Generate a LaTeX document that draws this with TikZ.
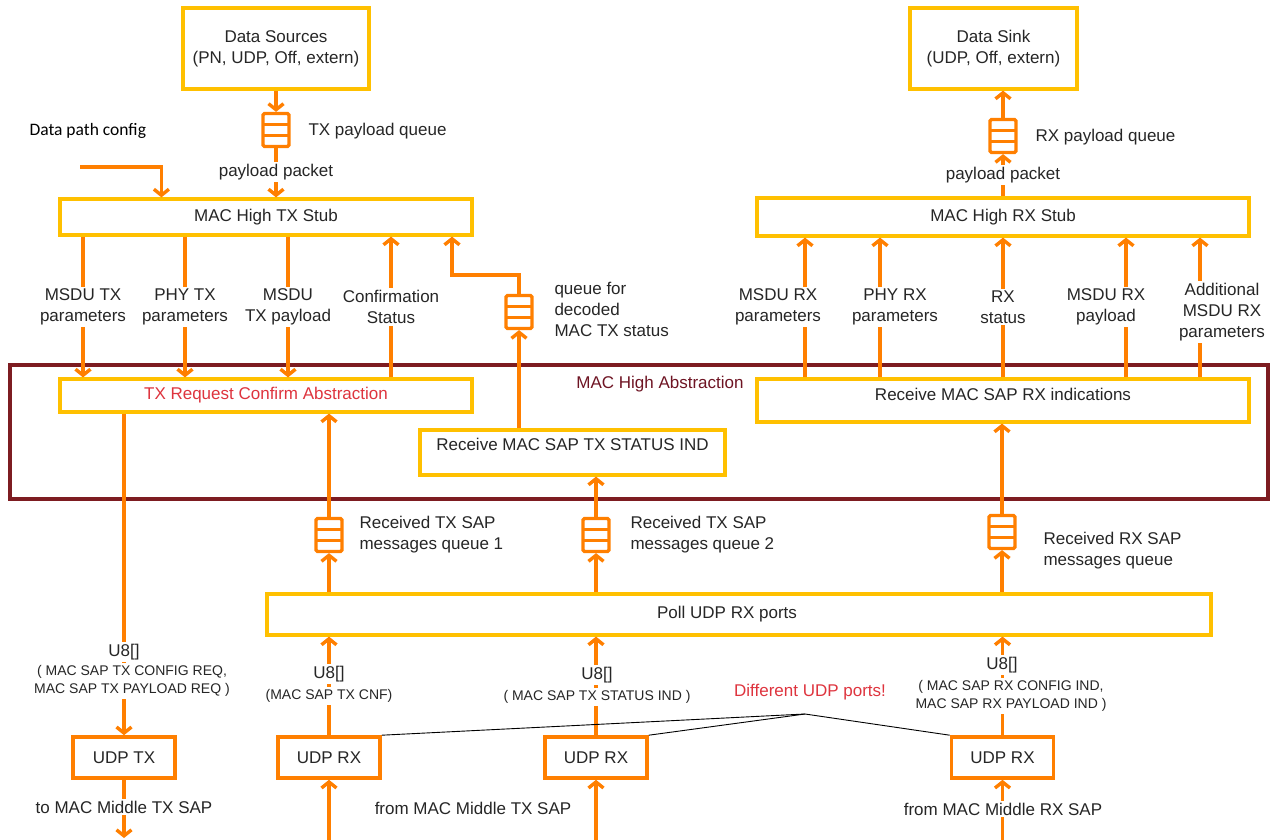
\documentclass[tikz,border=0pt]{standalone}
\usepackage{fontspec}
\setmainfont{Liberation Sans}
\newfontfamily\cfgfont{Carlito}
\usetikzlibrary{arrows.meta}

\definecolor{flow}{RGB}{255,127,0}
\definecolor{gold}{RGB}{255,192,0}
\definecolor{mhframe}{RGB}{125,28,33}
\definecolor{mhtext}{RGB}{110,20,35}
\definecolor{alert}{RGB}{222,52,62}
\definecolor{ink}{RGB}{38,38,38}

\tikzset{
  every node/.style={text=ink, font=\fontsize{17}{21}\selectfont},
  gbox/.style={draw=gold, line width=3.2pt, fill=white, inner sep=0pt, align=center},
  ubox/.style={draw=flow, line width=3.6pt, fill=white, minimum width=102pt,
    minimum height=41pt, inner sep=0pt},
  qbox/.style={draw=flow, line width=3.2pt, fill=white, minimum width=26pt,
    minimum height=33pt, inner sep=0pt, rounded corners=1.5pt,
    path picture={
      \draw[flow, line width=3.2pt]
        ([yshift=-11pt]path picture bounding box.north west) --
        ([yshift=-11pt]path picture bounding box.north east)
        ([yshift=11pt]path picture bounding box.south west) --
        ([yshift=11pt]path picture bounding box.south east);}},
  arr/.style={draw=flow, line width=3.4pt, -{Straight Barb[length=6pt,width=15pt]}},
  lbl/.style={fill=white, inner sep=2pt, align=center},
  small/.style={font=\fontsize{14}{18.5}\selectfont},
  note/.style={anchor=west, align=left},
  hint/.style={draw=black, line width=0.9pt},
}

\begin{document}
\begin{tikzpicture}[x=1pt, y=-1pt]
\useasboundingbox (0,0) rectangle (1270,840);

% ---------- MAC High abstraction frame ----------
\node[draw=mhframe, line width=3.2pt, minimum width=1258pt, minimum height=134pt,
      inner sep=0pt] (mha) at (639,432) {};
\node[text=mhtext] (mhalabel) at (660,384) {MAC High Abstraction};

% ---------- TX side ----------
\node[gbox, minimum width=186pt, minimum height=81pt] (src) at (276,48.5)
  {Data Sources\\(PN, UDP, Off, extern)};
\node[qbox] (txq) at (276,130) {};
\node[note] (txqlbl) at (305,131) {TX payload queue};
\node[gbox, minimum width=412pt, minimum height=36pt] (txstub) at (266,217)
  {MAC High TX Stub};
\node[anchor=west, font=\cfgfont\fontsize{17.5}{21}\selectfont, text=black] (cfg)
  at (26,131) {Data path config};
\coordinate (cfgin) at (80,167);

\node[gbox, minimum width=412pt, minimum height=33pt, text=alert] (txreq)
  at (266,395.5) {TX Request Confirm Abstraction};
\node[gbox, minimum width=305pt, minimum height=45pt, text depth=16pt] (txstat)
  at (572.5,452.5) {Receive MAC SAP TX STATUS IND};
\node[qbox] (decq) at (519,312) {};
\node[note] (decqlbl) at (551,309) {queue for\\decoded\\MAC TX status};

\draw[arr] (src.south -| txq) -- (txq.north);
\draw[arr] (txq.south) -- (txstub.north -| txq);
\node[lbl] (pp1) at (276,172) {payload packet};
\draw[arr] (cfgin) -| ([xshift=103pt]txstub.north west);

\draw[arr] (txstub.south -| 83,0) -- (txreq.north -| 83,0);
\draw[arr] (txstub.south -| 185,0) -- (txreq.north -| 185,0);
\draw[arr] (txstub.south -| 288,0) -- (txreq.north -| 288,0);
\draw[arr] (txreq.north -| 391,0) -- (txstub.south -| 391,0);
\node[lbl] (l1) at (83,307) {MSDU TX\\parameters};
\node[lbl] (l2) at (185,307) {PHY TX\\parameters};
\node[lbl] (l3) at (288,307) {MSDU\\TX payload};
\node[lbl] (l4) at (391,307) {Confirmation\\Status};

\draw[arr] (txstat.north -| decq) -- (decq.south);
\draw[arr] (decq.north) -- ++(0,-19) -| (txstub.south -| 452,0);

% ---------- RX side ----------
\node[gbox, minimum width=167pt, minimum height=81pt] (sink) at (993.5,48.5)
  {Data Sink\\(UDP, Off, extern)};
\node[qbox] (rxq) at (1003,136) {};
\node[note] (rxqlbl) at (1032,137) {RX payload queue};
\node[gbox, minimum width=492pt, minimum height=38pt] (rxstub) at (1003,217)
  {MAC High RX Stub};
\node[gbox, minimum width=492pt, minimum height=43pt, text depth=13pt] (rxind)
  at (1003,400.5) {Receive MAC SAP RX indications};

\draw[arr] (rxstub.north -| rxq) -- (rxq.south);
\draw[arr] (rxq.north) -- (sink.south -| rxq);
\node[lbl] (pp2) at (1003,175) {payload packet};

\draw[arr] (rxind.north -| 805,0) -- (rxstub.south -| 805,0);
\draw[arr] (rxind.north -| 880,0) -- (rxstub.south -| 880,0);
\draw[arr] (rxind.north -| 1003,0) -- (rxstub.south -| 1003,0);
\draw[arr] (rxind.north -| 1126,0) -- (rxstub.south -| 1126,0);
\draw[arr] (rxind.north -| 1200,0) -- (rxstub.south -| 1200,0);
\node[lbl] (r1) at (778,307) {MSDU RX\\parameters};
\node[lbl] (r2) at (895,307) {PHY RX\\parameters};
\node[lbl] (r3) at (1003,307) {RX\\status};
\node[lbl] (r4) at (1106,307) {MSDU RX\\payload};
\node[lbl] (r5) at (1222,312) {Additional\\MSDU RX\\parameters};

% ---------- UDP polling ----------
\node[qbox] (q1) at (329,535) {};
\node[qbox] (q2) at (596,535) {};
\node[qbox] (q3) at (1002,532) {};
\node[note] (q1lbl) at (356,535) {Received TX SAP\\messages queue 1};
\node[note] (q2lbl) at (627,535) {Received TX SAP\\messages queue 2};
\node[note] (q3lbl) at (1040,551) {Received RX SAP\\messages queue};
\node[gbox, minimum width=944pt, minimum height=41pt] (poll) at (739,614.5)
  {\hspace*{-24pt}Poll UDP RX ports};

\draw[arr] (poll.north -| q1) -- (q1.south);
\draw[arr] (q1.north) -- (txreq.south -| q1);
\draw[arr] (poll.north -| q2) -- (q2.south);
\draw[arr] (q2.north) -- (txstat.south -| q2);
\draw[arr] (poll.north -| q3) -- (q3.south);
\draw[arr] (q3.north) -- (rxind.south -| q3);

% ---------- UDP sockets ----------
\node[ubox] (udptx) at (124,757.5) {UDP TX};
\node[ubox] (udprx1) at (329,757.5) {UDP RX};
\node[ubox] (udprx2) at (596,757.5) {UDP RX};
\node[ubox] (udprx3) at (1002.5,757.5) {UDP RX};

\draw[arr] (txreq.south -| udptx) -- (udptx.north);
\node[lbl] (u0) at (124,652) {U8[]};
\node[lbl, small] (u0b) at (132,681) {( MAC SAP TX CONFIG REQ,\\ MAC SAP TX PAYLOAD REQ )};

\draw[arr] (udprx1.north) -- (poll.south -| udprx1);
\node[lbl] (u1) at (329,674) {U8[]};
\node[lbl, small] (u1b) at (329,696) {(MAC SAP TX CNF)};

\draw[arr] (udprx2.north) -- (poll.south -| udprx2);
\node[lbl] (u2) at (597,675) {U8[]};
\node[lbl, small] (u2b) at (597,697) {( MAC SAP TX STATUS IND )};

\draw[arr] (udprx3.north) -- (poll.south -| udprx3);
\node[lbl] (u3) at (1002,665) {U8[]};
\node[lbl, small] (u3b) at (1011,696) {( MAC SAP RX CONFIG IND,\\ MAC SAP RX PAYLOAD IND )};

\coordinate (txout) at (124,838);
\coordinate (rx1in) at (329,840);
\coordinate (rx2in) at (596,840);
\coordinate (rx3in) at (1002.5,840);
\draw[arr] (udptx.south) -- (txout);
\draw[arr] (rx1in) -- (udprx1.south);
\draw[arr] (rx2in) -- (udprx2.south);
\draw[arr] (rx3in) -- (udprx3.south);
\node[lbl] (mm0) at (124,807) {to MAC Middle TX SAP};
\node (mm1) at (473,808) {from MAC Middle TX SAP};
\node[lbl] (mm2) at (1003,809) {from MAC Middle RX SAP};

% ---------- port note ----------
\node[text=alert] (ports) at (810,692) {Different UDP ports!};
\coordinate (fork) at (805,714);
\draw[hint] (fork) -- (udprx1.north east);
\draw[hint] (fork) -- (udprx2.north east);
\draw[hint] (fork) -- (udprx3.north west);
\end{tikzpicture}
\end{document}
